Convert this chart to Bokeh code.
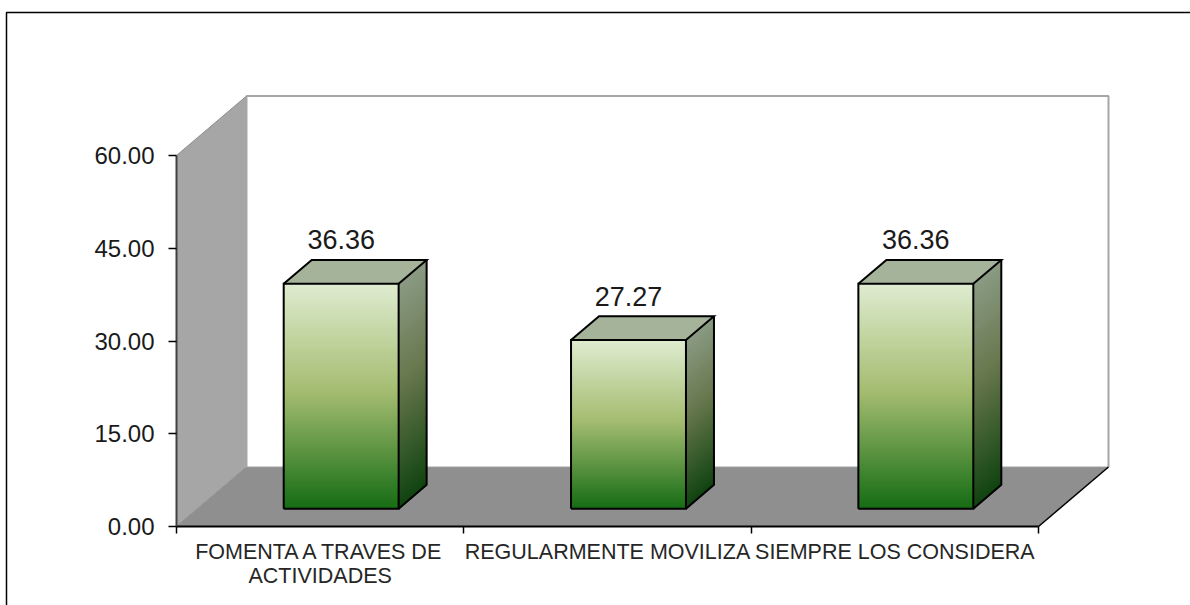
from bokeh.plotting import figure
from bokeh.embed import file_html
from bokeh.resources import INLINE
from bokeh.models import FixedTicker, Range1d
from bokeh.core.properties import value

categories = ["FOMENTA A TRAVES DE\nACTIVIDADES", "REGULARMENTE MOVILIZA", "SIEMPRE LOS CONSIDERA"]
values = [36.36, 27.27, 36.36]
y_ticks = [0, 15, 30, 45, 60]
y_tick_labels = ["0.00", "15.00", "30.00", "45.00", "60.00"]

W, H = 1190, 605
LEFT, BOTTOM = 176, 526
PX_X = (1038 - 176) / 3
PX_Y = (526 - 155) / 60
DX = 70 / PX_X      # chart depth, x units
DY = 59.5 / PX_Y    # chart depth, y units
GAP = 0.3           # bar start depth (fraction)
BAR_DEPTH = 0.4
BAR_W = 0.40
FONT = "Liberation Sans"

FRONT = [(0, "#DFECD0"), (0.48, "#A4BC70"), (1, "#156C14")]
SIDE = [(0, "#8B9B84"), (0.45, "#67774D"), (1, "#104310")]
N = 90


def mix(stops, t):
    for (a, ca), (b, cb) in zip(stops, stops[1:]):
        if t <= b:
            f = (t - a) / (b - a)
            c = [round(int(ca[i:i + 2], 16) * (1 - f) + int(cb[i:i + 2], 16) * f) for i in (1, 3, 5)]
            return "#%02X%02X%02X" % tuple(c)
    return stops[-1][1]


xs = Range1d(-LEFT / PX_X, (W - LEFT) / PX_X)
ys = Range1d(-(H - BOTTOM) / PX_Y, BOTTOM / PX_Y)
p = figure(width=W, height=H, output_backend="svg", toolbar_location=None,
           x_range=xs, y_range=ys,
           min_border_left=0, min_border_right=0, min_border_top=0, min_border_bottom=0,
           outline_line_color=None, background_fill_color="white", border_fill_color="white")
p.grid.visible = False

# picture frame: only its left and top edges fall inside the picture
fx = xs.start + 6 / PX_X
fy = ys.end - 12 / PX_Y
p.line([fx, fx, xs.end], [ys.start, fy, fy], line_color="#000000", line_width=1.5)

# walls and floor
n = len(categories)
p.patch([0, DX, DX, 0], [0, DY, 60 + DY, 60], fill_color="#A6A6A6", line_color="#8C8C8C", line_width=1)
p.patch([0, n, n + DX, DX], [0, 0, DY, DY], fill_color="#8F8F8F", line_color=None)
p.line([DX, DX, n + DX, n + DX], [DY, 60 + DY, 60 + DY, DY], line_color="#A6A6A6", line_width=2)
p.line([DX, n + DX], [DY, DY], line_color="#A0A0A0", line_width=1)
p.line([n, n + DX], [0, DY], line_color="#000000", line_width=1.5)

# bars: each gradient band is painted from its top edge down to the bar's base
lift = GAP * DY
shift = GAP * DX
bdx = BAR_DEPTH * DX
bdy = BAR_DEPTH * DY
for i, v in enumerate(values):
    x0 = i + 0.5 - BAR_W / 2 + shift
    x1 = x0 + BAR_W
    b = lift
    t = lift + v
    for k in range(N):
        y_hi = t - v * k / N
        p.quad(left=x0, right=x1, bottom=b, top=y_hi, fill_color=mix(FRONT, (k + 0.5) / N), line_color=None)
        p.patch([x1, x1 + bdx, x1 + bdx, x1], [b, b + bdy, y_hi + bdy, y_hi],
                fill_color=mix(SIDE, (k + 0.5) / N), line_color=None)
    p.patch([x0, x1, x1 + bdx, x0 + bdx], [t, t, t + bdy, t + bdy],
            fill_color="#A6B39B", line_color=None)
    p.multi_line([[x0, x1, x1, x0, x0], [x0, x0 + bdx, x1 + bdx, x1], [x1 + bdx, x1 + bdx, x1]],
                 [[b, b, t, t, b], [t, t + bdy, t + bdy, t], [t + bdy, b + bdy, b]],
                 line_color="#000000", line_width=2, line_join="miter")
    p.text([i + 0.5 + shift], [t + 44 / PX_Y], text=[f"{v:.2f}"], text_align="center",
           text_baseline="middle", text_font=value(FONT), text_font_size="27px", text_color="#1A1A1A")

# axes
ya = p.yaxis[0]
ya.fixed_location = 0
ya.bounds = (0, 60)
ya.ticker = FixedTicker(ticks=y_ticks)
ya.major_label_overrides = dict(zip(y_ticks, y_tick_labels))
ya.major_label_text_font = FONT
ya.major_label_text_font_size = "24px"
ya.major_label_text_color = "#1A1A1A"
ya.major_label_standoff = 14
ya.major_tick_out = 8
ya.major_tick_in = 0
ya.minor_tick_out = 0
ya.minor_tick_in = 0
ya.axis_line_color = "#404040"
ya.axis_line_width = 2
ya.major_tick_line_color = "#000000"
ya.major_tick_line_width = 1.5

xa = p.xaxis[0]
xa.fixed_location = 0
xa.bounds = (0, n)
xa.ticker = FixedTicker(ticks=[i + 0.5 for i in range(n)], minor_ticks=list(range(n + 1)))
xa.major_label_overrides = {i + 0.5: c for i, c in enumerate(categories)}
xa.major_label_text_font = FONT
xa.major_label_text_font_size = "21.5px"
xa.major_label_text_color = "#262626"
xa.major_label_text_line_height = 1.0
xa.major_label_standoff = 6
xa.major_tick_out = 0
xa.major_tick_in = 0
xa.minor_tick_out = 7
xa.minor_tick_in = 0
xa.minor_tick_line_color = "#000000"
xa.minor_tick_line_width = 1.5
xa.axis_line_color = "#000000"
xa.axis_line_width = 2

open("out.html", "w").write(file_html(p, INLINE))
